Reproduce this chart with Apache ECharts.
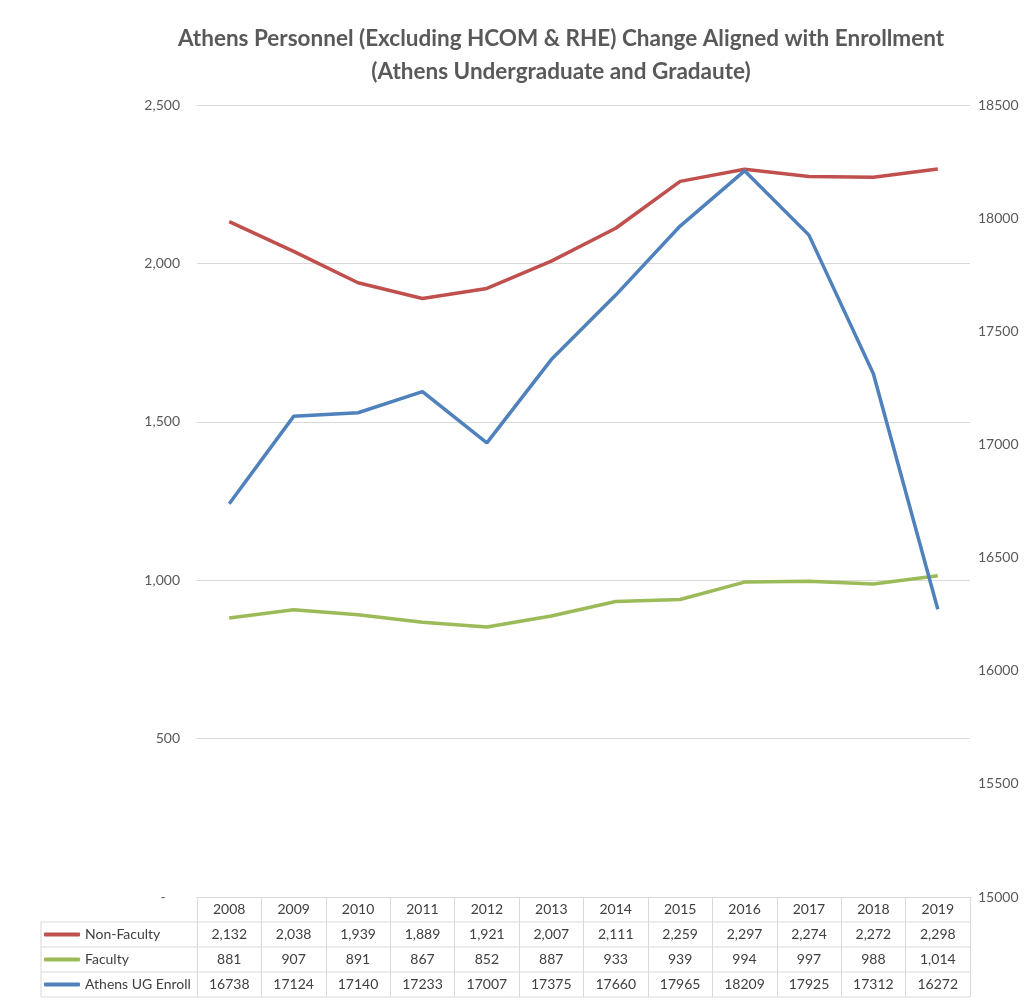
<!DOCTYPE html>
<html><head><meta charset="utf-8">
<script src="https://cdn.jsdelivr.net/npm/echarts@6/dist/echarts.min.js"></script>
<style>html,body{margin:0;padding:0;background:#fff}#c{width:1033px;height:1008px}</style>
</head><body><div id="c"></div>
<script>
const years = ['2008','2009','2010','2011','2012','2013','2014','2015','2016','2017','2018','2019'];
const nonFaculty = [2132, 2038, 1939, 1889, 1921, 2007, 2111, 2259, 2297, 2274, 2272, 2298];
const faculty = [881, 907, 891, 867, 852, 887, 933, 939, 994, 997, 988, 1014];
const enroll = [16738, 17124, 17140, 17233, 17007, 17375, 17660, 17965, 18209, 17925, 17312, 16272];
const seriesNames = ['Non-Faculty', 'Faculty', 'Athens UG Enroll'];

const FONT = 'Lato';
const fmt = v => v.toLocaleString('en-US');
const GL = 197, GR = 970, GT = 105, GB = 897, ROW = 25, TL = 41;
const lineCol = '#d9d9d9';

const chart = echarts.init(document.getElementById('c'), null, {renderer: 'canvas'});
const tableLines = [];
for (let r = 1; r <= 4; r++) {
  tableLines.push({type: 'line', shape: {x1: TL, y1: GB + r * ROW, x2: GR, y2: GB + r * ROW}, style: {stroke: lineCol, lineWidth: 1}, silent: true});
}
tableLines.push({type: 'line', shape: {x1: TL, y1: GB + ROW, x2: TL, y2: GB + 4 * ROW}, style: {stroke: lineCol, lineWidth: 1}, silent: true});

chart.setOption({
  animation: false,
  backgroundColor: '#fff',
  title: {
    text: 'Athens Personnel (Excluding HCOM & RHE) Change Aligned with Enrollment\n(Athens Undergraduate and Gradaute)',
    left: 561, top: 22, textAlign: 'center', padding: 0,
    textStyle: {fontFamily: FONT, fontSize: 22.5, fontWeight: 'bold', color: '#595959', lineHeight: 33}
  },
  legend: {
    orient: 'vertical', left: TL + 3, top: GB + ROW, itemGap: 0, padding: 0,
    icon: 'roundRect', itemWidth: 36, itemHeight: 4,
    textStyle: {fontFamily: FONT, fontSize: 14, color: '#404040', lineHeight: ROW, height: ROW},
    data: seriesNames
  },
  grid: {left: GL, right: 1033 - GR, top: GT, bottom: 1008 - GB, containLabel: false},
  xAxis: {
    type: 'category', data: years, boundaryGap: true,
    axisLine: {lineStyle: {color: lineCol, width: 1}},
    axisTick: {show: true, length: 4 * ROW, interval: 0, lineStyle: {color: lineCol}},
    axisLabel: {
      interval: 0, margin: 0, fontFamily: FONT, fontSize: 14, color: '#404040', lineHeight: ROW,
      formatter: (v, i) => v + '\n' + fmt(nonFaculty[i]) + '\n' + fmt(faculty[i]) + '\n' + enroll[i]
    }
  },
  yAxis: [
    {type: 'value', min: 0, max: 2500, interval: 500,
     axisLine: {show: false}, axisTick: {show: false},
     splitLine: {lineStyle: {color: lineCol, width: 1}},
     axisLabel: {margin: 17, fontFamily: FONT, fontSize: 14, color: '#595959',
       formatter: v => v === 0 ? '-    ' : fmt(v)}},
    {type: 'value', min: 15000, max: 18500, interval: 500,
     axisLine: {show: false}, axisTick: {show: false}, splitLine: {show: false},
     axisLabel: {margin: 8, fontFamily: FONT, fontSize: 14, color: '#595959',
       formatter: v => String(v)}}
  ],
  series: [
    {name: seriesNames[0], type: 'line', data: nonFaculty, yAxisIndex: 0, symbol: 'none',
     lineStyle: {color: '#c0504d', width: 3.5}, itemStyle: {color: '#c0504d'}},
    {name: seriesNames[1], type: 'line', data: faculty, yAxisIndex: 0, symbol: 'none',
     lineStyle: {color: '#9bbb59', width: 3.5}, itemStyle: {color: '#9bbb59'}},
    {name: seriesNames[2], type: 'line', data: enroll, yAxisIndex: 1, symbol: 'none',
     lineStyle: {color: '#4f81bd', width: 3.5}, itemStyle: {color: '#4f81bd'}}
  ],
  graphic: tableLines
});
</script></body></html>
